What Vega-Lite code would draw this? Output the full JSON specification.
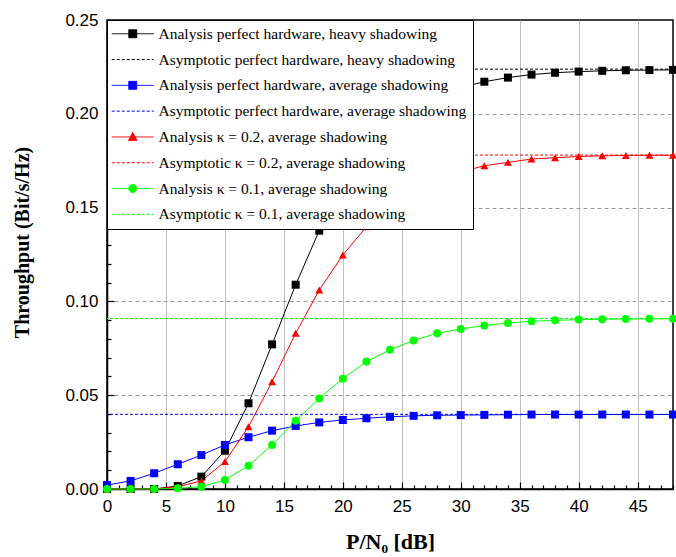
{
  "$schema": "https://vega.github.io/schema/vega-lite/v6.json",
  "width": 566,
  "height": 469,
  "autosize": {"type": "none"},
  "padding": {"left": 107, "top": 20, "right": 3, "bottom": 68},
  "background": "white",
  "config": {
    "view": {"stroke": "black", "strokeWidth": 1.5},
    "axis": {
      "domainColor": "black", "domainWidth": 1.5,
      "tickColor": "black", "tickWidth": 1.2,
      "labelFont": "Liberation Sans", "labelFontSize": 17, "labelColor": "black",
      "titleFont": "Liberation Serif", "titleFontWeight": "bold", "titleColor": "black"
    }
  },
  "datasets": {
    "curves": [
      {"x": 0, "A_heavy": 0, "A_avg": 0.0021, "A_k02": 0, "A_k01": 0},
      {"x": 2, "A_heavy": 0, "A_avg": 0.0043, "A_k02": 0, "A_k01": 0},
      {"x": 4, "A_heavy": 0, "A_avg": 0.0084, "A_k02": 0, "A_k01": 0},
      {"x": 6, "A_heavy": 0.0016, "A_avg": 0.0132, "A_k02": 0.0012, "A_k01": 0.0004},
      {"x": 8, "A_heavy": 0.0066, "A_avg": 0.0181, "A_k02": 0.0043, "A_k01": 0.0012},
      {"x": 10, "A_heavy": 0.0204, "A_avg": 0.0235, "A_k02": 0.0146, "A_k01": 0.0048},
      {"x": 12, "A_heavy": 0.0457, "A_avg": 0.0276, "A_k02": 0.0332, "A_k01": 0.0124},
      {"x": 14, "A_heavy": 0.0771, "A_avg": 0.0311, "A_k02": 0.0572, "A_k01": 0.0235},
      {"x": 16, "A_heavy": 0.1089, "A_avg": 0.0336, "A_k02": 0.083, "A_k01": 0.0364},
      {"x": 18, "A_heavy": 0.1377, "A_avg": 0.0355, "A_k02": 0.1061, "A_k01": 0.0483},
      {"x": 20, "A_heavy": 0.16, "A_avg": 0.0368, "A_k02": 0.1247, "A_k01": 0.0588},
      {"x": 22, "A_heavy": 0.178, "A_avg": 0.0377, "A_k02": 0.1398, "A_k01": 0.0679},
      {"x": 24, "A_heavy": 0.192, "A_avg": 0.0385, "A_k02": 0.151, "A_k01": 0.0742},
      {"x": 26, "A_heavy": 0.202, "A_avg": 0.039, "A_k02": 0.159, "A_k01": 0.0792},
      {"x": 28, "A_heavy": 0.209, "A_avg": 0.0393, "A_k02": 0.165, "A_k01": 0.083},
      {"x": 30, "A_heavy": 0.214, "A_avg": 0.0394, "A_k02": 0.169, "A_k01": 0.0853},
      {"x": 32, "A_heavy": 0.2171, "A_avg": 0.0395, "A_k02": 0.1723, "A_k01": 0.0871},
      {"x": 34, "A_heavy": 0.2193, "A_avg": 0.0396, "A_k02": 0.1741, "A_k01": 0.0885},
      {"x": 36, "A_heavy": 0.2209, "A_avg": 0.0397, "A_k02": 0.1759, "A_k01": 0.0894},
      {"x": 38, "A_heavy": 0.2219, "A_avg": 0.0397, "A_k02": 0.1766, "A_k01": 0.0899},
      {"x": 40, "A_heavy": 0.2225, "A_avg": 0.0397, "A_k02": 0.1772, "A_k01": 0.0903},
      {"x": 42, "A_heavy": 0.2229, "A_avg": 0.0397, "A_k02": 0.1776, "A_k01": 0.0905},
      {"x": 44, "A_heavy": 0.2232, "A_avg": 0.0397, "A_k02": 0.1778, "A_k01": 0.0906},
      {"x": 46, "A_heavy": 0.2233, "A_avg": 0.0397, "A_k02": 0.1779, "A_k01": 0.0907},
      {"x": 48, "A_heavy": 0.2234, "A_avg": 0.0397, "A_k02": 0.1779, "A_k01": 0.0907}
    ],
    "asym": [
      {"s": "S_heavy", "y": 0.2238},
      {"s": "S_avg", "y": 0.0398},
      {"s": "S_k02", "y": 0.178},
      {"s": "S_k01", "y": 0.0909}
    ]
  },
  "layer": [
    {
      "data": {"name": "asym"},
      "mark": {"type": "rule", "strokeWidth": 1, "strokeDash": [3, 2]},
      "encoding": {
        "y": {
          "field": "y", "type": "quantitative",
          "scale": {"domain": [0, 0.25], "nice": false},
          "axis": {
            "title": "Throughput (Bit/s/Hz)",
            "titleFontSize": 20,
            "titlePadding": 32,
            "titleY": 222,
            "values": [0,0.01,0.02,0.03,0.04,0.05,0.06,0.07,0.08,0.09,0.1,0.11,0.12,0.13,0.14,0.15,0.16,0.17,0.18,0.19,0.2,0.21,0.22,0.23,0.24,0.25],
            "labelExpr": "round(datum.value*100) % 5 == 0 ? format(datum.value, '.2f') : ''",
            "labelPadding": 16,
            "labelFlush": false,
            "labelOverlap": false,
            "tickSize": {"condition": {"test": "round(datum.value*100) % 5 == 0", "value": -7}, "value": -4},
            "grid": true,
            "gridColor": "#999999",
            "gridDash": [4, 3],
            "gridOpacity": {"condition": {"test": "round(datum.value*100) % 5 == 0 && datum.value > 0.001 && datum.value < 0.249", "value": 1}, "value": 0}
          }
        },
        "color": {"field": "s", "type": "nominal"}
      }
    },
    {
      "data": {"name": "curves"},
      "transform": [{"fold": ["A_heavy", "A_avg", "A_k02", "A_k01"], "as": ["s", "y"]}],
      "mark": {"type": "line", "strokeWidth": 1},
      "encoding": {
        "x": {
          "field": "x", "type": "quantitative",
          "scale": {"domain": [0, 48], "nice": false, "zero": false},
          "axis": {
            "title": "P/N₀ [dB]",
            "titleFontSize": 22,
            "titlePadding": 14,
            "values": [0,1,2,3,4,5,6,7,8,9,10,11,12,13,14,15,16,17,18,19,20,21,22,23,24,25,26,27,28,29,30,31,32,33,34,35,36,37,38,39,40,41,42,43,44,45,46,47,48],
            "labelExpr": "datum.value % 5 == 0 ? datum.label : ''",
            "labelPadding": 16,
            "labelFlush": false,
            "labelOverlap": false,
            "tickSize": {"condition": {"test": "datum.value % 5 == 0", "value": -7}, "value": -4},
            "grid": true,
            "gridColor": "#c0c0c0",
            "gridWidth": 1,
            "gridOpacity": {"condition": {"test": "datum.value % 5 == 0 && datum.value > 0", "value": 1}, "value": 0}
          }
        },
        "y": {
          "field": "y", "type": "quantitative",
          "scale": {"domain": [0, 0.25], "nice": false},
          "axis": {
            "title": "Throughput (Bit/s/Hz)",
            "titleFontSize": 20,
            "titlePadding": 32,
            "titleY": 222,
            "values": [0,0.01,0.02,0.03,0.04,0.05,0.06,0.07,0.08,0.09,0.1,0.11,0.12,0.13,0.14,0.15,0.16,0.17,0.18,0.19,0.2,0.21,0.22,0.23,0.24,0.25],
            "labelExpr": "round(datum.value*100) % 5 == 0 ? format(datum.value, '.2f') : ''",
            "labelPadding": 16,
            "labelFlush": false,
            "labelOverlap": false,
            "tickSize": {"condition": {"test": "round(datum.value*100) % 5 == 0", "value": -7}, "value": -4},
            "grid": true,
            "gridColor": "#999999",
            "gridDash": [4, 3],
            "gridOpacity": {"condition": {"test": "round(datum.value*100) % 5 == 0 && datum.value > 0.001 && datum.value < 0.249", "value": 1}, "value": 0}
          }
        },
        "color": {"field": "s", "type": "nominal"}
      }
    },
    {
      "data": {"name": "curves"},
      "transform": [{"fold": ["A_heavy", "A_avg", "A_k02", "A_k01"], "as": ["s", "y"]}],
      "mark": {"type": "point", "filled": true, "opacity": 1},
      "encoding": {
        "x": {
          "field": "x", "type": "quantitative",
          "scale": {"domain": [0, 48], "nice": false, "zero": false},
          "axis": {
            "title": "P/N₀ [dB]",
            "titleFontSize": 22,
            "titlePadding": 14,
            "values": [0,1,2,3,4,5,6,7,8,9,10,11,12,13,14,15,16,17,18,19,20,21,22,23,24,25,26,27,28,29,30,31,32,33,34,35,36,37,38,39,40,41,42,43,44,45,46,47,48],
            "labelExpr": "datum.value % 5 == 0 ? datum.label : ''",
            "labelPadding": 16,
            "labelFlush": false,
            "labelOverlap": false,
            "tickSize": {"condition": {"test": "datum.value % 5 == 0", "value": -7}, "value": -4},
            "grid": true,
            "gridColor": "#c0c0c0",
            "gridWidth": 1,
            "gridOpacity": {"condition": {"test": "datum.value % 5 == 0 && datum.value > 0", "value": 1}, "value": 0}
          }
        },
        "y": {
          "field": "y", "type": "quantitative",
          "scale": {"domain": [0, 0.25], "nice": false},
          "axis": {
            "title": "Throughput (Bit/s/Hz)",
            "titleFontSize": 20,
            "titlePadding": 32,
            "titleY": 222,
            "values": [0,0.01,0.02,0.03,0.04,0.05,0.06,0.07,0.08,0.09,0.1,0.11,0.12,0.13,0.14,0.15,0.16,0.17,0.18,0.19,0.2,0.21,0.22,0.23,0.24,0.25],
            "labelExpr": "round(datum.value*100) % 5 == 0 ? format(datum.value, '.2f') : ''",
            "labelPadding": 16,
            "labelFlush": false,
            "labelOverlap": false,
            "tickSize": {"condition": {"test": "round(datum.value*100) % 5 == 0", "value": -7}, "value": -4},
            "grid": true,
            "gridColor": "#999999",
            "gridDash": [4, 3],
            "gridOpacity": {"condition": {"test": "round(datum.value*100) % 5 == 0 && datum.value > 0.001 && datum.value < 0.249", "value": 1}, "value": 0}
          }
        },
        "shape": {
          "field": "s", "type": "nominal",
          "scale": {"domain": ["A_heavy", "A_avg", "A_k02", "A_k01"], "range": ["square", "square", "triangle-up", "circle"]},
          "legend": null
        },
        "size": {
          "field": "s", "type": "nominal",
          "scale": {"domain": ["A_heavy", "A_avg", "A_k02", "A_k01"], "range": [64, 64, 90, 55]},
          "legend": null
        },
        "color": {
          "field": "s", "type": "nominal",
          "scale": {
            "domain": ["A_heavy", "S_heavy", "A_avg", "S_avg", "A_k02", "S_k02", "A_k01", "S_k01"],
            "range": ["#000000", "#000000", "#0000ff", "#0000ff", "#ff0000", "#ff0000", "#00ff00", "#00ff00"]
          },
          "legend": {
            "title": null,
            "orient": "top-left",
            "offset": 0,
            "padding": 6,
            "fillColor": "white",
            "strokeColor": "black",
            "labelFont": "Liberation Serif",
            "labelFontSize": 15.5,
            "labelColor": "black",
            "labelLimit": 400,
            "symbolSize": 196,
            "symbolOffset": 12,
            "rowPadding": 8.8,
            "labelOffset": 18,
            "symbolStrokeWidth": 1,
            "symbolOpacity": 1,
            "symbolType": {"expr": "(datum.value=='A_heavy' || datum.value=='A_avg') ? 'M-3,0H3M-0.57,-0.57H0.57V0.57H-0.57Z' : datum.value=='A_k02' ? 'M-3,0H3M0,-0.65L0.62,0.5H-0.62Z' : datum.value=='A_k01' ? 'M-3,0H3M0.57,0A0.57,0.57,0,1,1,-0.57,0A0.57,0.57,0,1,1,0.57,0Z' : 'M-3,0H3'"},
            "symbolDash": {"expr": "indexof(datum.value, 'S_') == 0 ? [3, 2] : [1, 0]"},
            "symbolStrokeColor": {"expr": "scale('color', datum.value)"},
            "symbolFillColor": {"expr": "scale('color', datum.value)"},
            "labelExpr": "datum.value=='A_heavy' ? 'Analysis  perfect hardware, heavy shadowing' : datum.value=='S_heavy' ? 'Asymptotic perfect hardware, heavy shadowing' : datum.value=='A_avg' ? 'Analysis  perfect hardware, average shadowing' : datum.value=='S_avg' ? 'Asymptotic perfect hardware, average shadowing' : datum.value=='A_k02' ? 'Analysis  κ = 0.2, average shadowing' : datum.value=='S_k02' ? 'Asymptotic  κ = 0.2, average shadowing' : datum.value=='A_k01' ? 'Analysis  κ = 0.1, average shadowing' : 'Asymptotic  κ = 0.1, average shadowing'"
          }
        }
      }
    }
  ]
}
